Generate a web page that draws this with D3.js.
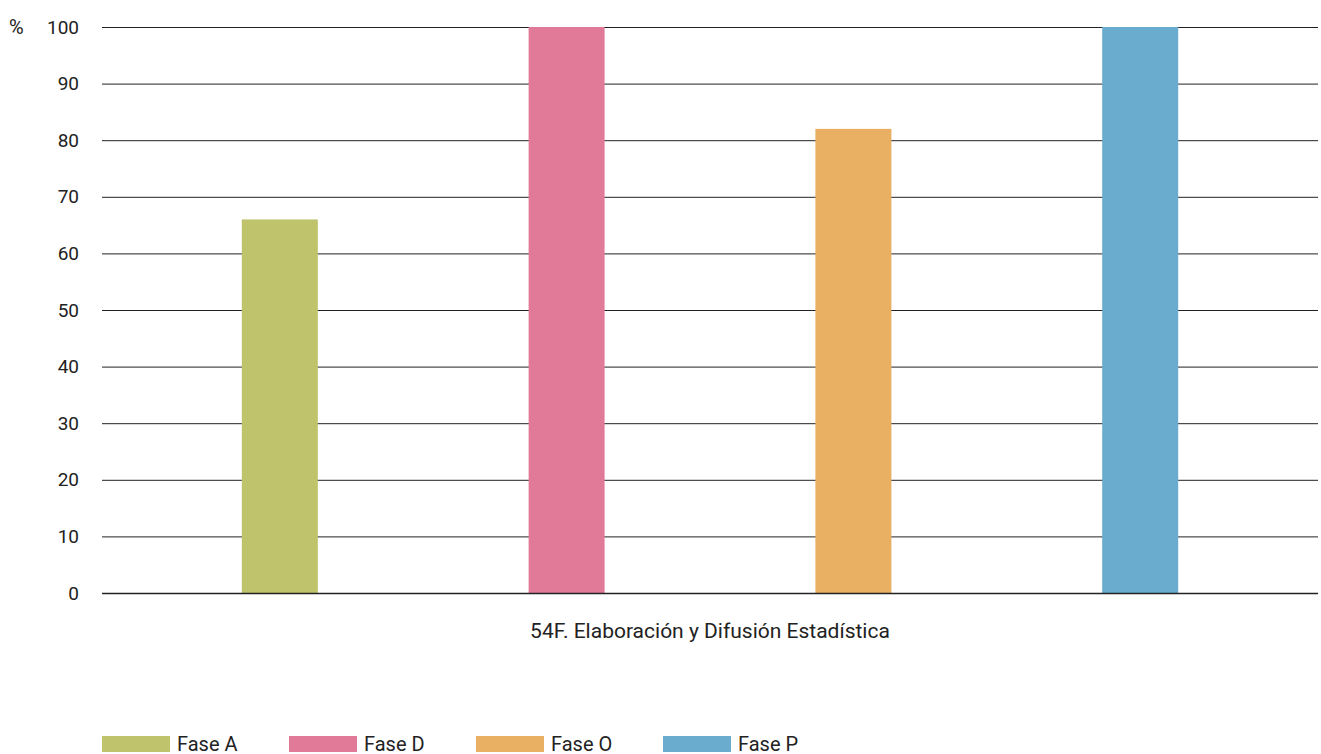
<!DOCTYPE html>
<html lang="es">
<head>
<meta charset="utf-8">
<script src="https://d3js.org/d3.v7.min.js"></script>
<style>
  body { margin: 0; background: #fff; }
  text { font-family: Roboto, "Open Sans", sans-serif; fill: #222; }
</style>
</head>
<body>
<div id="chart"></div>
<script>
var categories = ["54F. Elaboración y Difusión Estadística"];
var series = ["Fase A", "Fase D", "Fase O", "Fase P"];
var values = [66, 100, 82, 100];
var colors = ["#bfc36b", "#e07a98", "#e9af62", "#6aacce"];
var yTicks = [0, 10, 20, 30, 40, 50, 60, 70, 80, 90, 100];

var width = 1321, height = 754;
var mLeft = 102, mRight = 1318, mTop = 27, mBottom = 593;

var svg = d3.select("#chart").append("svg")
  .attr("width", width).attr("height", height);

var y = d3.scaleLinear().domain([0, 100]).range([mBottom, mTop]);

var x0 = d3.scaleBand().domain(categories).range([mLeft, mRight])
  .paddingInner(0).paddingOuter(0.03);
var x1 = d3.scaleBand().domain(series).range([0, x0.bandwidth()])
  .paddingInner(0.735).paddingOuter(0.3675);

// gridlines
svg.append("g").selectAll("line").data(yTicks.filter(function (d) { return d > 0; }))
  .enter().append("line")
  .attr("x1", mLeft).attr("x2", mRight)
  .attr("y1", function (d) { return y(d) + 0.5; })
  .attr("y2", function (d) { return y(d) + 0.5; })
  .attr("stroke", "#222").attr("stroke-width", 1);

// y labels
svg.append("g").selectAll("text").data(yTicks).enter().append("text")
  .attr("x", 79).attr("y", function (d) { return y(d); })
  .attr("dy", "0.35em").attr("text-anchor", "end")
  .style("font-size", "19px")
  .text(function (d) { return d; });

svg.append("text").attr("x", 9).attr("y", y(100)).attr("dy", "0.35em")
  .style("font-size", "20px").text("%");

// bars
var g = svg.append("g").selectAll("g").data(categories).enter().append("g")
  .attr("transform", function (d) { return "translate(" + x0(d) + ",0)"; });

g.selectAll("rect").data(function () {
    return series.map(function (s, i) { return { s: s, v: values[i], c: colors[i] }; });
  })
  .enter().append("rect")
  .attr("x", function (d) { return x1(d.s); })
  .attr("width", x1.bandwidth())
  .attr("y", function (d) { return y(d.v); })
  .attr("height", function (d) { return y(0) - y(d.v); })
  .attr("fill", function (d) { return d.c; });

// baseline
svg.append("line").attr("x1", mLeft).attr("x2", mRight)
  .attr("y1", y(0) + 0.5).attr("y2", y(0) + 0.5)
  .attr("stroke", "#222").attr("stroke-width", 1.5);

// category label
svg.append("g").selectAll("text").data(categories).enter().append("text")
  .attr("x", function (d) { return x0(d) + x0.bandwidth() / 2; })
  .attr("y", 638).attr("text-anchor", "middle")
  .style("font-size", "21px")
  .text(function (d) { return d; });

// legend
var lg = svg.append("g").selectAll("g").data(series).enter().append("g")
  .attr("transform", function (d, i) { return "translate(" + (102 + i * 187) + ",736)"; });
lg.append("rect").attr("width", 68).attr("height", 16)
  .attr("fill", function (d, i) { return colors[i]; });
lg.append("text").attr("x", 75).attr("y", 15)
  .style("font-size", "20px")
  .text(function (d) { return d; });
</script>
</body>
</html>
